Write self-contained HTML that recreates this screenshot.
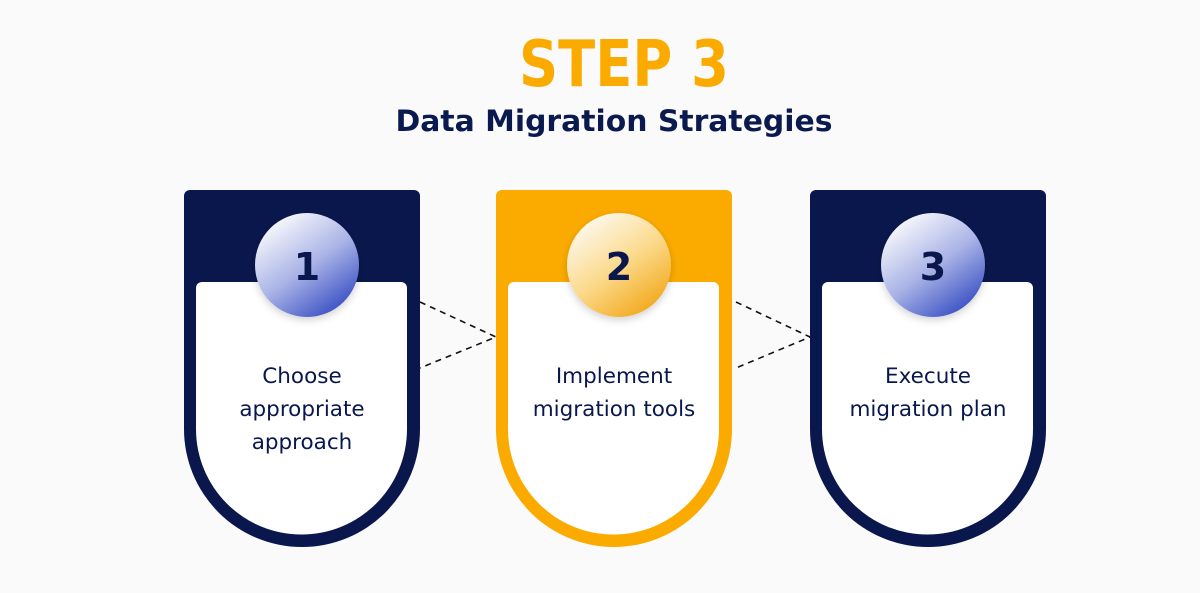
<!DOCTYPE html>
<html><head><meta charset="utf-8"><style>
html,body{margin:0;padding:0;background:#fafafa;}
svg{display:block;}
</style></head><body>
<svg width="1200" height="593" viewBox="0 0 1200 593" xmlns="http://www.w3.org/2000/svg">
<defs>
<linearGradient id="gb" x1="0.2" y1="0.1" x2="0.8" y2="0.95">
<stop offset="0" stop-color="#f3f4fb"/><stop offset="0.5" stop-color="#a9b3e6"/><stop offset="1" stop-color="#3a50c4"/>
</linearGradient>
<linearGradient id="go" x1="0.2" y1="0.1" x2="0.8" y2="0.95">
<stop offset="0" stop-color="#fdf6e6"/><stop offset="0.5" stop-color="#fbd98a"/><stop offset="1" stop-color="#f2a91c"/>
</linearGradient>
<filter id="sh" x="-30%" y="-30%" width="160%" height="160%"><feDropShadow dx="0" dy="3" stdDeviation="4" flood-color="#000" flood-opacity="0.18"/></filter>
</defs>
<rect width="1200" height="593" fill="#fafafa"/>
<text x="624" y="86" text-anchor="middle" font-family="DejaVu Sans, sans-serif" font-weight="bold" font-size="64" fill="#fbab00" textLength="210" lengthAdjust="spacingAndGlyphs">STEP 3</text>
<text x="614" y="131" text-anchor="middle" font-family="DejaVu Sans, sans-serif" font-weight="bold" font-size="29" fill="#0b1a4e" textLength="437" lengthAdjust="spacingAndGlyphs">Data Migration Strategies</text>

<g stroke="#111" stroke-width="1.6" stroke-dasharray="6,5" fill="none">
<polyline points="420,302 496,337 420,368"/>
<polyline points="736,302 810,337 736,368"/>
</g>

<path d="M184,196 a6,6 0 0 1 6,-6 h224 a6,6 0 0 1 6,6 V429 a118,118 0 0 1 -236,0 Z" fill="#0a174c"/>
<path d="M196,288 a6,6 0 0 1 6,-6 h199 a6,6 0 0 1 6,6 V429 a105.5,105.5 0 0 1 -211,0 Z" fill="#fff"/>
<circle cx="307" cy="265" r="52" fill="url(#gb)" filter="url(#sh)"/>
<text x="307" y="280" text-anchor="middle" font-family="DejaVu Sans, sans-serif" font-weight="bold" font-size="38" fill="#0a174c">1</text>
<g font-family="DejaVu Sans, sans-serif" font-size="21.5" fill="#0a174c" text-anchor="middle">
<text x="302" y="383">Choose</text>
<text x="302" y="416">appropriate</text>
<text x="302" y="449">approach</text>
</g>

<path d="M496,196 a6,6 0 0 1 6,-6 h224 a6,6 0 0 1 6,6 V429 a118,118 0 0 1 -236,0 Z" fill="#fbab00"/>
<path d="M508,288 a6,6 0 0 1 6,-6 h199 a6,6 0 0 1 6,6 V429 a105.5,105.5 0 0 1 -211,0 Z" fill="#fff"/>
<circle cx="619" cy="265" r="52" fill="url(#go)" filter="url(#sh)"/>
<text x="619" y="280" text-anchor="middle" font-family="DejaVu Sans, sans-serif" font-weight="bold" font-size="38" fill="#0a174c">2</text>
<g font-family="DejaVu Sans, sans-serif" font-size="21.5" fill="#0a174c" text-anchor="middle">
<text x="614" y="383">Implement</text>
<text x="614" y="416">migration tools</text>
</g>

<path d="M810,196 a6,6 0 0 1 6,-6 h224 a6,6 0 0 1 6,6 V429 a118,118 0 0 1 -236,0 Z" fill="#0a174c"/>
<path d="M822,288 a6,6 0 0 1 6,-6 h199 a6,6 0 0 1 6,6 V429 a105.5,105.5 0 0 1 -211,0 Z" fill="#fff"/>
<circle cx="933" cy="265" r="52" fill="url(#gb)" filter="url(#sh)"/>
<text x="933" y="280" text-anchor="middle" font-family="DejaVu Sans, sans-serif" font-weight="bold" font-size="38" fill="#0a174c">3</text>
<g font-family="DejaVu Sans, sans-serif" font-size="21.5" fill="#0a174c" text-anchor="middle">
<text x="928" y="383">Execute</text>
<text x="928" y="416">migration plan</text>
</g>
</svg>
</body></html>
